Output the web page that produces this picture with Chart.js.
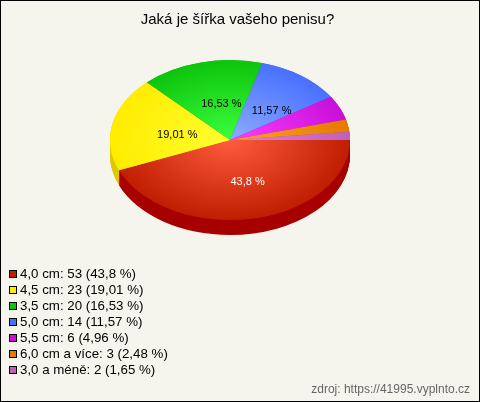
<!DOCTYPE html>
<html>
<head>
<meta charset="utf-8">
<title>Jaká je šířka vašeho penisu?</title>
<script src="https://cdn.jsdelivr.net/npm/chart.js@4"></script>
<style>
    html, body { margin: 0; padding: 0; background: #f5f5ee; }
    canvas { display: block; }
</style>
</head>
<body>
<canvas id="pieChart" width="480" height="402"></canvas>
<script>
const chartTitle = 'Jaká je šířka vašeho penisu?';
const sourceNote = 'zdroj: https://41995.vyplnto.cz';
const categories = ['4,0 cm', '4,5 cm', '3,5 cm', '5,0 cm', '5,5 cm', '6,0 cm a více', '3,0 a méně'];
const values = [53, 23, 20, 14, 6, 3, 2];
const percents = ['43,8', '19,01', '16,53', '11,57', '4,96', '2,48', '1,65'];
const rimColors = ['#c01e00', '#ffec00', '#0cc40c', '#4870ff', '#c810d8', '#e87800', '#c060b8'];
const hubColors = ['#ff5c3e', '#ffff30', '#3cff3c', '#8cacff', '#ff3cff', '#ffa428', '#e080e0'];
const sideColors = ['#a80000', '#e0c800', '#0a9a0a', '#3858c8', '#a00cac', '#b85e00', '#984c90'];
const labelColors = ['#ffffff', '#000000', '#000000', '#000000', null, null, null];

const squash = 2 / 3;   // pie je elipsa, ne kruh
const depth = 15;       // vyska boku v pixelech

function sliceFill(context) {
    const area = context.chart.chartArea;
    if (!area) return rimColors[context.dataIndex];
    const cx = (area.left + area.right) / 2;
    const cy = (area.top + area.bottom) / 2;
    const g = context.chart.ctx.createRadialGradient(cx, cy, 0, cx, cy, 120);
    g.addColorStop(0, hubColors[context.dataIndex]);
    g.addColorStop(1, rimColors[context.dataIndex]);
    return g;
}

const pie3d = {
    id: 'pie3d',
    beforeDatasetsDraw(chart) {
        const ctx = chart.ctx;
        const arcs = chart.getDatasetMeta(0).data;
        const cx = arcs[0].x, cy = arcs[0].y;
        ctx.save();
        ctx.translate(cx, cy);
        ctx.scale(1, squash);
        ctx.translate(-cx, -cy);
        // bok kolace
        for (let off = depth / squash; off > 0; off -= 1) {
            arcs.forEach((arc, i) => {
                ctx.fillStyle = sideColors[i];
                ctx.beginPath();
                ctx.moveTo(cx, cy + off);
                ctx.arc(cx, cy + off, arc.outerRadius, arc.startAngle, arc.endAngle);
                ctx.closePath();
                ctx.fill();
            });
        }
    },
    afterDatasetsDraw(chart) {
        chart.ctx.restore();
    },
    afterDraw(chart) {
        const ctx = chart.ctx;
        const arcs = chart.getDatasetMeta(0).data;

        ctx.save();
        ctx.textBaseline = 'middle';

        // popisky vysecí
        ctx.font = '11px "Liberation Sans"';
        ctx.textAlign = 'center';
        arcs.forEach((arc, i) => {
            if (!labelColors[i]) return;
            const mid = (arc.startAngle + arc.endAngle) / 2;
            const r = arc.outerRadius * 0.5;
            ctx.fillStyle = labelColors[i];
            ctx.fillText(percents[i] + ' %',
                arc.x + Math.cos(mid) * r + 6,
                arc.y + Math.sin(mid) * r * squash + 3);
        });

        // nadpis
        ctx.font = '15px "Liberation Sans"';
        ctx.fillStyle = '#000000';
        ctx.fillText(chartTitle, 237.5, 20);

        // legenda
        ctx.font = '13.3px "Liberation Sans"';
        ctx.textAlign = 'left';
        categories.forEach((cat, i) => {
            const y = 274 + i * 16;
            ctx.fillStyle = rimColors[i];
            ctx.fillRect(9, y - 3, 7, 7);
            ctx.strokeStyle = '#000000';
            ctx.lineWidth = 1;
            ctx.strokeRect(9.5, y - 3.5, 7, 7);
            ctx.fillStyle = '#000000';
            ctx.fillText(cat + ': ' + values[i] + ' (' + percents[i] + ' %)', 20, y);
        });

        // zdroj
        ctx.font = '12px "Liberation Sans"';
        ctx.fillStyle = '#666666';
        ctx.textAlign = 'right';
        ctx.fillText(sourceNote, 470, 390);

        // ramecek
        ctx.strokeStyle = '#000000';
        ctx.lineWidth = 1;
        ctx.strokeRect(0.5, 0.5, 479, 401);
        ctx.restore();
    }
};

new Chart(document.getElementById('pieChart').getContext('2d'), {
    type: 'pie',
    data: {
        labels: categories,
        datasets: [{
            data: values,
            backgroundColor: sliceFill,
            borderWidth: 0
        }]
    },
    options: {
        responsive: false,
        animation: false,
        events: [],
        rotation: 90,
        layout: { padding: { left: 110, right: 130, top: 20, bottom: 142 } },
        plugins: {
            legend: { display: false },
            title: { display: false },
            tooltip: { enabled: false }
        }
    },
    plugins: [pie3d]
});
</script>
</body>
</html>
